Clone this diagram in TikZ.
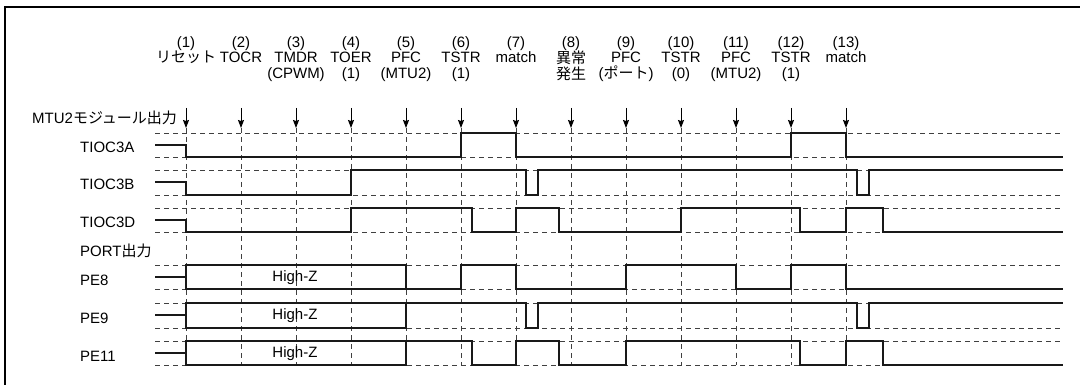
\documentclass[tikz,border=0pt]{standalone}
\usepackage{fontspec}
\setmainfont{Liberation Sans}
\newfontfamily\jp{Noto Sans CJK JP}
\usetikzlibrary{arrows.meta}
\begin{document}
\begin{tikzpicture}[x=1pt,y=-1pt,
  sig/.style={line width=2.3pt, line join=miter, color=black!90},
  ref/.style={line width=0.9pt, dash pattern=on 5pt off 4pt, color=black!75},
  evarrow/.style={line width=1pt, -{Stealth[length=8pt,width=6pt,inset=1pt]}},
  lab/.style={font=\fontsize{15}{15.5}\selectfont, inner sep=0pt, align=center, anchor=north},
  sname/.style={font=\fontsize{15}{15.5}\selectfont, inner sep=0pt, anchor=west},
  hz/.style={font=\fontsize{15}{15.5}\selectfont, inner sep=0pt},
]
\useasboundingbox (0,0) rectangle (1085,385);
% frame (top and left edges)
\draw[line width=2pt] (5,385) -- (5,7) -- (1080,7);

% event arrows and vertical guide lines
\foreach \i in {1,...,13}{
  \pgfmathsetmacro{\ex}{186+55*(\i-1)}
  \coordinate (t\i) at (\ex,108);
  \coordinate (b\i) at (\ex,128);
  \coordinate (v\i) at (\ex,365);
  \draw[evarrow] (t\i) -- (b\i);
  \draw[ref] (b\i) -- (v\i);
}

% top labels
\node[lab] (l1) at (186,36) {(1)\\{\jp リセット}};
\node[lab] (l2) at (241,36) {(2)\\TOCR};
\node[lab] (l3) at (296,36) {(3)\\TMDR\\(CPWM)};
\node[lab] (l4) at (351,36) {(4)\\TOER\\(1)};
\node[lab] (l5) at (406,36) {(5)\\PFC\\(MTU2)};
\node[lab] (l6) at (461,36) {(6)\\TSTR\\(1)};
\node[lab] (l7) at (516,36) {(7)\\match};
\node[lab] (l8) at (571,36) {(8)\\{\jp 異常}\\{\jp 発生}};
\node[lab] (l9) at (626,36) {(9)\\PFC\\({\jp ポート})};
\node[lab] (l10) at (681,36) {(10)\\TSTR\\(0)};
\node[lab] (l11) at (736,36) {(11)\\PFC\\(MTU2)};
\node[lab] (l12) at (791,36) {(12)\\TSTR\\(1)};
\node[lab] (l13) at (846,36) {(13)\\match};

% signal names
\node[sname] (mtu) at (32,118) {MTU2{\jp モジュール出力}};
\node[sname] (na) at (80,147) {TIOC3A};
\node[sname] (nb) at (80,184) {TIOC3B};
\node[sname] (nd) at (80,222) {TIOC3D};
\node[sname] (port) at (80,251) {PORT{\jp 出力}};
\node[sname] (n8) at (80,280) {PE8};
\node[sname] (n9) at (80,318) {PE9};
\node[sname] (n11) at (80,356) {PE11};

% reference dashed levels
\foreach \y in {133,157,170,195,208,232,265,289,303,328,341,365}{
  \draw[ref] (155,\y) -- (1063,\y);
}

% TIOC3A
\draw[sig] (155,145) -- (186,145) -- (186,157) -- (461,157) -- (461,133) -- (516,133) -- (516,157) -- (791,157) -- (791,133) -- (846,133) -- (846,157) -- (1063,157);
% TIOC3B
\draw[sig] (155,182) -- (186,182) -- (186,195) -- (351,195) -- (351,170) -- (526,170) -- (526,195) -- (538,195) -- (538,170) -- (857,170) -- (857,195) -- (869,195) -- (869,170) -- (1063,170);
% TIOC3D
\draw[sig] (155,220) -- (186,220) -- (186,232) -- (351,232) -- (351,208) -- (472,208) -- (472,232) -- (516,232) -- (516,208) -- (559,208) -- (559,232) -- (681,232) -- (681,208) -- (800,208) -- (800,232) -- (846,232) -- (846,208) -- (883,208) -- (883,232) -- (1063,232);

% PE8
\draw[sig] (155,277) -- (186,277);
\draw[sig] (186,265) rectangle (406,289);
\draw[sig] (406,289) -- (461,289) -- (461,265) -- (516,265) -- (516,289) -- (626,289) -- (626,265) -- (736,265) -- (736,289) -- (791,289) -- (791,265) -- (846,265) -- (846,289) -- (1063,289);
\node[hz] (hz8) at (295,278) {High-Z};
% PE9
\draw[sig] (155,315) -- (186,315);
\draw[sig] (186,303) rectangle (406,328);
\draw[sig] (406,303) -- (526,303) -- (526,328) -- (538,328) -- (538,303) -- (857,303) -- (857,328) -- (869,328) -- (869,303) -- (1063,303);
\node[hz] (hz9) at (295,316) {High-Z};
% PE11
\draw[sig] (155,353) -- (186,353);
\draw[sig] (186,341) rectangle (406,365);
\draw[sig] (406,341) -- (472,341) -- (472,365) -- (516,365) -- (516,341) -- (559,341) -- (559,365) -- (626,365) -- (626,341) -- (800,341) -- (800,365) -- (846,365) -- (846,341) -- (883,341) -- (883,365) -- (1063,365);
\node[hz] (hz11) at (295,354) {High-Z};
\end{tikzpicture}
\end{document}
